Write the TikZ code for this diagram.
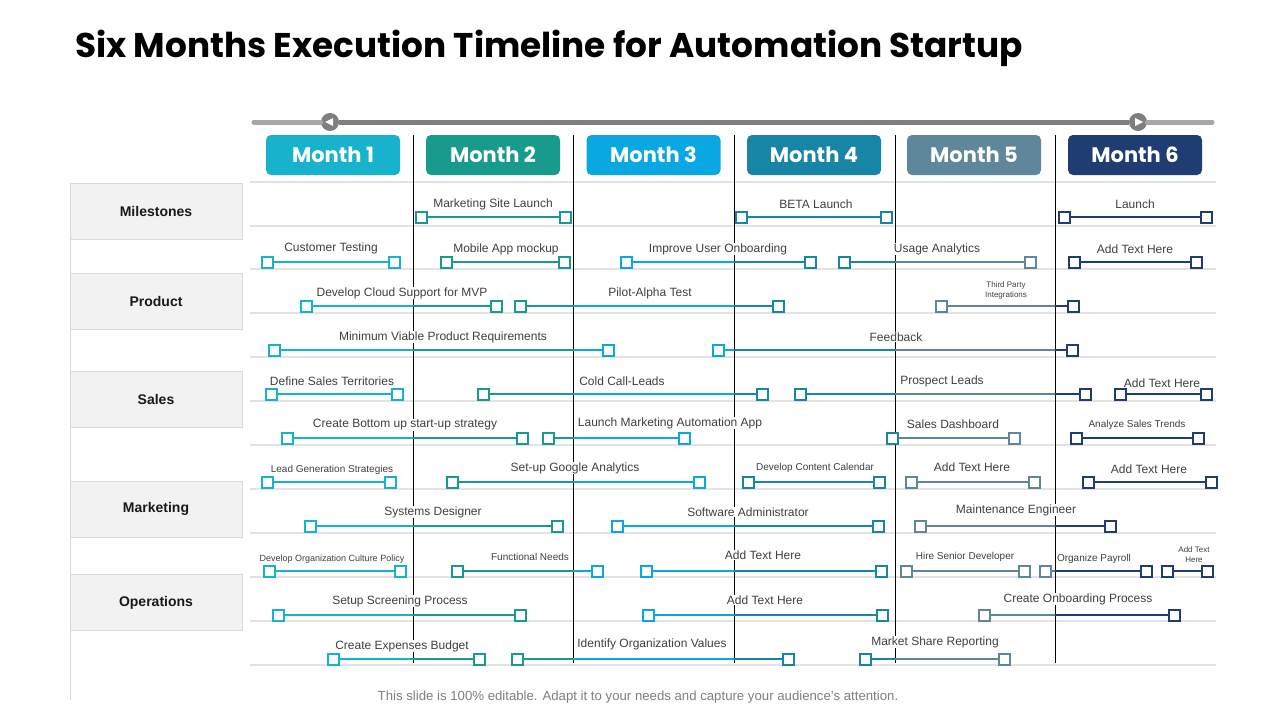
\documentclass[tikz,border=0pt]{standalone}
\usepackage{fontspec}
\setmainfont{Liberation Sans}
\newfontfamily\headfont{Poppins}
\definecolor{m1}{HTML}{17B2CC}
\definecolor{m2}{HTML}{189B8C}
\definecolor{m3}{HTML}{0AA8E2}
\definecolor{m4}{HTML}{1785A6}
\definecolor{m5}{HTML}{5E879B}
\definecolor{m6}{HTML}{1F3D73}
\definecolor{tx}{HTML}{404040}
\definecolor{gridc}{HTML}{E3E3E3}
\definecolor{catfill}{HTML}{F2F2F2}
\definecolor{catline}{HTML}{D9D9D9}
\definecolor{slidedark}{HTML}{7F7F7F}
\definecolor{slidelight}{HTML}{A6A6A6}
\tikzset{
  sq/.style={rectangle, minimum size=11pt, inner sep=0pt, line width=2pt, fill=white},
  tlbar/.style={line width=2.2pt},
  lbl/.style={text=tx, fill=white, inner sep=0.8pt, align=center},
  monthbox/.style={rounded corners=5pt, minimum width=134pt, minimum height=40pt, text=white, font=\headfont\bfseries\fontsize{21}{23}\selectfont},
  catbox/.style={fill=catfill, draw=catline, line width=1pt, minimum width=172pt, minimum height=56pt, font=\bfseries\fontsize{14}{16}\selectfont, text=black!90},
  gridline/.style={gridc, line width=1.5pt},
  divider/.style={black, line width=1pt},
}
% #1 name, #2 y, #3 x1, #4 x2, #5 label x, #6 label y, #7 font size, #8 text
\newcommand\tbar[8]{%
  \pgfmathtruncatemacro\ca{1+(#3>413)+(#3>573)+(#3>734)+(#3>895)+(#3>1055)}%
  \pgfmathtruncatemacro\cb{1+(#4>413)+(#4>573)+(#4>734)+(#4>895)+(#4>1055)}%
  \node[lbl, font=\fontsize{#7}{10}\selectfont] (#1t) at (#5,#6) {#8};
  \node[sq, draw=m\ca] (#1a) at (#3,#2) {};
  \node[sq, draw=m\cb] (#1b) at (#4,#2) {};
  \foreach \i/\l/\r in {1/240/413,2/413/573,3/573/734,4/734/895,5/895/1055,6/1055/1225}{%
    \begin{scope}
      \clip (\l,#2-4) rectangle (\r,#2+4);
      \draw[tlbar, color=m\i] (#1a.east) -- (#1b.west);
    \end{scope}
  }%
}
\begin{document}
\begin{tikzpicture}[x=1pt, y=-1pt]
\useasboundingbox (0,0) rectangle (1280,720);
\fill[white] (0,0) rectangle (1280,720);

% title
\node[anchor=west, inner sep=0pt] (title) at (75,48) {\headfont\bfseries\fontsize{34.3}{40}\selectfont Six Months Execution Timeline for Automation Startup};

% slider
\node[circle, fill=slidedark, minimum size=18pt, inner sep=0pt] (k1) at (330,122) {};
\node[circle, fill=slidedark, minimum size=18pt, inner sep=0pt] (k2) at (1138,122) {};
\coordinate (s0) at (254,122);
\coordinate (s1) at (1212,122);
\draw[slidelight, line width=5pt, line cap=round] (s0) -- (k1);
\draw[slidelight, line width=5pt, line cap=round] (k2) -- (s1);
\draw[slidedark, line width=5pt] (k1) -- (k2);
\fill[white] (325,122) -- (333,118) -- (333,126) -- cycle;
\fill[white] (1143,122) -- (1135,118) -- (1135,126) -- cycle;

% grid lines
\foreach \yy in {182,226,269,313,357,401,445,489,533,577,621,665}{
  \draw[gridline] (250,\yy) -- (1216,\yy);
}
% left thin line
\draw[catline, line width=1pt] (70,183) -- (70,700);

% dividers
\foreach \xx in {413,573,734,895,1055}{
  \draw[divider] (\xx,135) -- (\xx,663);
}

% month headers
\node[monthbox, fill=m1] (mo1) at (333,155) {Month 1};
\node[monthbox, fill=m2] (mo2) at (493,155) {Month 2};
\node[monthbox, fill=m3] (mo3) at (653.5,155) {Month 3};
\node[monthbox, fill=m4] (mo4) at (814,155) {Month 4};
\node[monthbox, fill=m5] (mo5) at (974,155) {Month 5};
\node[monthbox, fill=m6] (mo6) at (1135,155) {Month 6};

% categories
\node[catbox] (c1) at (156,211) {Milestones};
\node[catbox] (c2) at (156,301.5) {Product};
\node[catbox] (c3) at (156,399) {Sales};
\node[catbox] (c4) at (156,509) {Marketing};
\node[catbox] (c5) at (156,602.5) {Operations};

% row 1
\tbar{r1a}{217}{421}{565}{493}{204}{12}{Marketing Site Launch}
\tbar{r1b}{217}{741}{886}{816}{204}{12}{BETA Launch}
\tbar{r1c}{217}{1064}{1206}{1135}{204}{12}{Launch}
% row 2
\tbar{r2a}{262}{267}{394}{331}{248}{12}{Customer Testing}
\tbar{r2b}{262}{446}{564}{506}{249}{12}{Mobile App mockup}
\tbar{r2c}{262}{626}{810}{718}{249}{12}{Improve User Onboarding}
\tbar{r2d}{262}{844}{1030}{937}{249}{12}{Usage Analytics}
\tbar{r2e}{262}{1074}{1196}{1135}{249}{12}{Add Text Here}
% row 3
\tbar{r3a}{306}{306}{496}{402}{293}{12}{Develop Cloud Support for MVP}
\tbar{r3b}{306}{520}{778}{650}{293}{12}{Pilot-Alpha Test}
\tbar{r3c}{306}{941}{1073}{1006}{290}{8}{Third Party\\Integrations}
% row 4
\tbar{r4a}{350}{274}{608}{443}{337}{12}{Minimum Viable Product Requirements}
\tbar{r4b}{350}{718}{1072}{896}{337}{12}{Feedback}
% row 5
\tbar{r5a}{394}{271}{397}{332}{381}{12}{Define Sales Territories}
\tbar{r5b}{394}{483}{762}{622}{381}{12}{Cold Call-Leads}
\tbar{r5c}{394}{800}{1085}{942}{381}{12}{Prospect Leads}
\tbar{r5d}{394}{1120}{1206}{1162}{383}{12}{Add Text Here}
% row 6
\tbar{r6a}{438}{287}{522}{405}{425}{12}{Create Bottom up start-up strategy}
\tbar{r6b}{438}{548}{684}{670}{423}{12}{Launch Marketing Automation App}
\tbar{r6c}{438}{892}{1014}{953}{424}{12}{Sales Dashboard}
\tbar{r6d}{438}{1076}{1198}{1137}{425}{10}{Analyze Sales Trends}
% row 7
\tbar{r7a}{482}{267}{390}{332}{470}{10}{Lead Generation Strategies}
\tbar{r7b}{482}{452}{699}{575}{468}{12}{Set-up Google Analytics}
\tbar{r7c}{482}{748}{879}{815}{468}{10}{Develop Content Calendar}
\tbar{r7d}{482}{911}{1034}{972}{467}{12}{Add Text Here}
\tbar{r7e}{482}{1088}{1211}{1149}{469}{12}{Add Text Here}
% row 8
\tbar{r8a}{526}{310}{557}{433}{512}{12}{Systems Designer}
\tbar{r8b}{526}{617}{878}{748}{512}{12}{Software Administrator}
\tbar{r8c}{526}{920}{1110}{1016}{510}{12}{Maintenance Engineer}
% row 9
\tbar{r9a}{571}{269}{400}{332}{559}{9}{Develop Organization Culture Policy}
\tbar{r9b}{571}{457}{597}{530}{557}{10}{Functional Needs}
\tbar{r9c}{571}{646}{881}{763}{555}{12}{Add Text Here}
\tbar{r9d}{571}{906}{1024}{965}{557}{10}{Hire Senior Developer}
\tbar{r9e}{571}{1045}{1146}{1094}{559}{10}{Organize Payroll}
\tbar{r9f}{571}{1167}{1207}{1194}{555}{8}{Add Text\\Here}
% row 10
\tbar{r10a}{615}{278}{520}{400}{601}{12}{Setup Screening Process}
\tbar{r10b}{615}{648}{882}{765}{600}{12}{Add Text Here}
\tbar{r10c}{615}{984}{1174}{1078}{599}{12}{Create Onboarding Process}
% row 11
\tbar{r11a}{659}{333}{479}{402}{646}{12}{Create Expenses Budget}
\tbar{r11b}{659}{517}{788}{652}{644}{12}{Identify Organization Values}
\tbar{r11c}{659}{865}{1004}{935}{642}{12}{Market Share Reporting}

% footer
\node[text=slidedark, font=\fontsize{13.2}{15}\selectfont] (foot) at (638,697) {This slide is 100\% editable. Adapt it to your needs and capture your audience's attention.};
\end{tikzpicture}
\end{document}
